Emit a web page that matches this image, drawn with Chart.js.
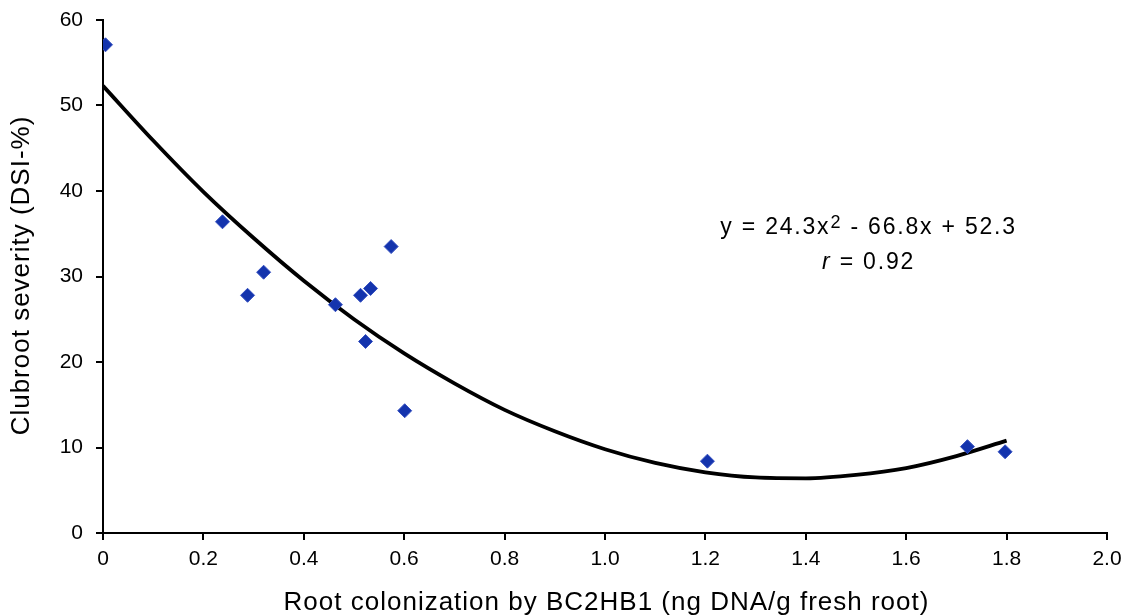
<!DOCTYPE html>
<html><head><meta charset="utf-8">
<script src="https://cdn.jsdelivr.net/npm/chart.js@4.4.1/dist/chart.umd.min.js"></script>
<style>html,body{margin:0;padding:0;background:#fff}#wrap{width:1128px;height:616px;position:relative}</style>
</head><body><div id="wrap"><canvas id="c" width="1128" height="616"></canvas></div>
<script>
// Observed points (root colonization, clubroot severity)
const obsX = [0.005, 0.238, 0.288, 0.320, 0.463, 0.513, 0.533, 0.523, 0.574, 0.601, 1.204, 1.722, 1.797];
const obsY = [57.1, 36.4, 27.8, 30.5, 26.7, 27.8, 28.6, 22.4, 33.5, 14.3, 8.4, 10.1, 9.5];
// Trend line
const fitX = [0, 0.1, 0.2, 0.3, 0.4, 0.5, 0.6, 0.7, 0.8, 0.9, 1.0, 1.1, 1.2, 1.3, 1.4, 1.5, 1.6, 1.7, 1.8];
const fitY = [52.3, 45.9, 39.9, 34.5, 29.5, 25.0, 21.0, 17.5, 14.4, 11.9, 9.8, 8.2, 7.1, 6.5, 6.4, 6.8, 7.6, 9.0, 10.8];
const xTickLabels = ['0','0.2','0.4','0.6','0.8','1.0','1.2','1.4','1.6','1.8','2.0'];
const yTicks = [0,10,20,30,40,50,60];
const eqLine1 = ['y = 24.3x', '2', ' - 66.8x + 52.3'];
const eqLine2 = ['r', ' = 0.92'];
const xTitle = 'Root colonization by BC2HB1 (ng DNA/g fresh root)';
const yTitle = 'Clubroot severity (DSI-%)';

const FONT = '"Liberation Sans", Arial, sans-serif';

const texts = {
  id: 'texts',
  beforeUpdate(chart) { chart.ctx.letterSpacing = '0px'; },
  beforeDraw(chart) { chart.ctx.letterSpacing = '0px'; },
  afterDraw(chart) {
    const ctx = chart.ctx;
    const xs = chart.scales.x, ys = chart.scales.y;
    const area = chart.chartArea;
    ctx.save();
    ctx.fillStyle = '#000';
    ctx.textBaseline = 'middle';
    ctx.textAlign = 'center';
    // axis titles
    ctx.letterSpacing = '1px';
    ctx.font = '26px ' + FONT;
    ctx.fillText(xTitle, (area.left + area.right) / 2 + 1.5, 603);
    ctx.save();
    ctx.translate(22, (area.top + area.bottom) / 2 - 1);
    ctx.rotate(-Math.PI / 2);
    ctx.fillText(yTitle, 0, 0);
    ctx.restore();
    // equation
    ctx.letterSpacing = '1.8px';
    ctx.textAlign = 'left';
    const cx = xs.getPixelForValue(1.525);
    const y1 = ys.getPixelForValue(35.75);
    const y2 = ys.getPixelForValue(31.65);
    const big = '23px ' + FONT, sup = '18px ' + FONT;
    ctx.font = big; const w0 = ctx.measureText(eqLine1[0]).width;
    ctx.font = sup; const w1 = ctx.measureText(eqLine1[1]).width;
    ctx.font = big; const w2 = ctx.measureText(eqLine1[2]).width;
    let x = cx - (w0 + w1 + w2) / 2;
    ctx.fillText(eqLine1[0], x, y1); x += w0;
    ctx.font = sup; ctx.fillText(eqLine1[1], x, y1 - 4); x += w1;
    ctx.font = big; ctx.fillText(eqLine1[2], x, y1);
    ctx.font = 'italic ' + big; const r0 = ctx.measureText(eqLine2[0]).width;
    ctx.font = big; const r1 = ctx.measureText(eqLine2[1]).width;
    let xr = cx - (r0 + r1) / 2;
    ctx.font = 'italic ' + big; ctx.fillText(eqLine2[0], xr, y2); xr += r0;
    ctx.font = big; ctx.fillText(eqLine2[1], xr, y2);
    ctx.letterSpacing = '0px';
    ctx.restore();
    ctx.letterSpacing = '0px';
  }
};

new Chart(document.getElementById('c'), {
  type: 'scatter',
  data: {
    datasets: [
      {
        label: 'fit', type: 'line',
        data: fitX.map((v, i) => ({x: v, y: fitY[i]})),
        borderColor: '#000', borderWidth: 3.8, pointRadius: 0,
        cubicInterpolationMode: 'monotone', fill: false, order: 2
      },
      {
        label: 'obs',
        data: obsX.map((v, i) => ({x: v, y: obsY[i]})),
        pointStyle: 'rectRot', pointRadius: 7, pointHoverRadius: 7,
        backgroundColor: '#1434ad', borderColor: '#3550c0', borderWidth: 1, order: 1
      }
    ]
  },
  options: {
    responsive: false, animation: false, devicePixelRatio: 1,
    layout: {padding: {left: 0, right: 21, top: 20, bottom: 0}},
    plugins: {legend: {display: false}, tooltip: {enabled: false}},
    scales: {
      x: {
        type: 'linear', min: 0, max: 2,
        afterBuildTicks(s) { s.ticks = xTickLabels.map((t, i) => ({value: i * 0.2})); },
        afterFit(s) { s.height = 83; s.paddingLeft = 0; s.paddingRight = 0; },
        border: {color: '#000', width: 2},
        grid: {drawOnChartArea: false, drawTicks: true, tickLength: 7, color: '#000', lineWidth: 2},
        ticks: {color: '#000', font: {family: FONT, size: 21}, padding: 7, maxRotation: 0, autoSkip: false,
          callback(v, i) { return xTickLabels[i]; }},
        title: {display: false}
      },
      y: {
        type: 'linear', min: 0, max: 60,
        afterBuildTicks(s) { s.ticks = yTicks.map(v => ({value: v})); },
        afterFit(s) { s.width = 103; s.paddingTop = 0; s.paddingBottom = 0; },
        border: {color: '#000', width: 2},
        grid: {drawOnChartArea: false, drawTicks: true, tickLength: 7, color: '#000', lineWidth: 2},
        ticks: {color: '#000', font: {family: FONT, size: 21}, padding: 13},
        title: {display: false}
      }
    }
  },
  plugins: [texts]
});
</script></body></html>
